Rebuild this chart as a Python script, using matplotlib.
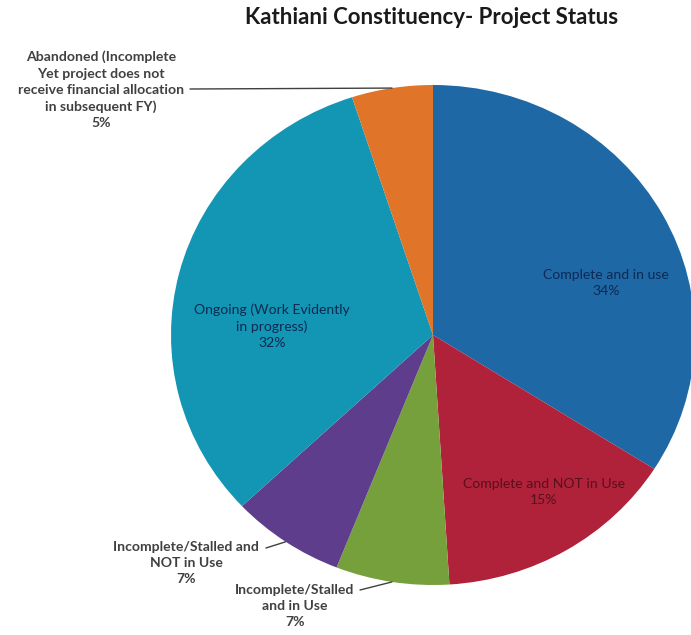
import numpy as np
import matplotlib.pyplot as plt

# Project status shares (%)
labels = ['Complete and in use', 'Complete and NOT in Use', 'Incomplete/Stalled\nand in Use',
          'Incomplete/Stalled and\nNOT in Use', 'Ongoing (Work Evidently\nin progress)',
          'Abandoned (Incomplete\nYet project does not\nreceive financial allocation\nin subsequent FY)']
values = [34, 15, 7, 7, 32, 5]
colors = ['#1f68a6', '#b0213a', '#76a03b', '#5d3d8c', '#1395b4', '#e07429']
text_colors = ['#0d2a52', '#5a0f1c', '#404040', '#404040', '#0d2a52', '#404040']

W, H = 691, 635
CX, CY, RX, RY = 433, 335, 262, 250

plt.rcParams['font.family'] = ['Lato', 'DejaVu Sans']
fig = plt.figure(figsize=(W / 100, H / 100), dpi=100)
ax = fig.add_axes([0, 0, 1, 1])
wedges, _ = ax.pie(values, startangle=90, counterclock=False, radius=1,
                   wedgeprops=dict(linewidth=0))
for w, c in zip(wedges, colors):
    w.set_facecolor(c)
ax.set_aspect('auto')
ax.set_xlim(-CX / RX, (W - CX) / RX)
ax.set_ylim(-(H - CY) / RY, CY / RY)
ax.axis('off')


def fig_xy(x, y):
    return x / W, 1 - y / H


# label anchor positions in pixels (centre of text block) and leader start
label_pos = [(606, 283), (544, 492), (295, 606), (186, 563), (272, 326), (101, 90)]
leader_from = [None, None, (360, 590), (266, 548), None, (190, 89)]

for i, (lab, v) in enumerate(zip(labels, values)):
    txt = f'{lab}\n{v}%'
    x, y = label_pos[i]
    fig.text(*fig_xy(x, y), txt, ha='center', va='center', fontsize=10.1,
             color=text_colors[i], linespacing=1.42,
             fontweight='bold' if text_colors[i] == '#404040' else 'normal')
    if leader_from[i] is not None:
        w = wedges[i]
        mid = np.deg2rad((w.theta1 + w.theta2) / 2)
        ax.annotate('', xy=(np.cos(mid), np.sin(mid)),
                    xytext=fig_xy(*leader_from[i]), textcoords='figure fraction',
                    arrowprops=dict(arrowstyle='-', color='#404040', lw=1,
                                    shrinkA=0, shrinkB=0))

fig.text(*fig_xy(432, 17), 'Kathiani Constituency- Project Status', ha='center', va='center',
         fontsize=16, fontweight='bold', color='#1a1a1a')

fig.savefig('out.png', dpi=100)
